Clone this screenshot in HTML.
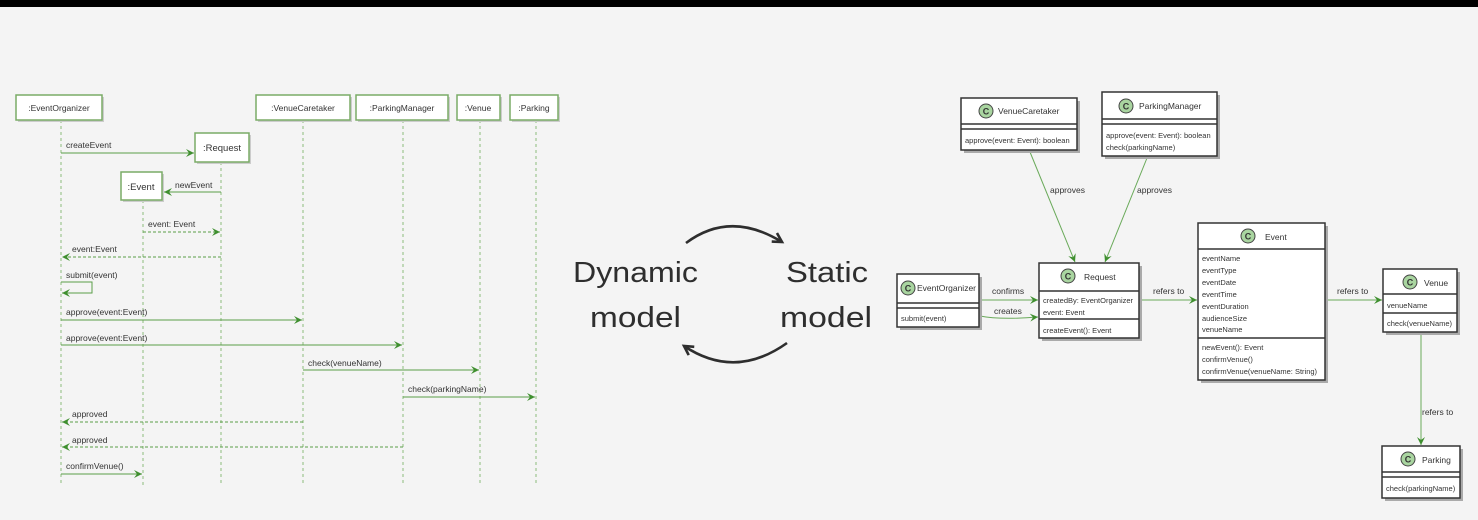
<!DOCTYPE html>
<html><head><meta charset="utf-8"><style>
html,body{margin:0;padding:0;background:#f4f4f4;}
svg{display:block;}
text{font-family:"Liberation Sans",sans-serif;fill:#333;}
.s{font-size:8.5px;}
.big{font-size:29px;fill:#2e2e2e;}
</style></head><body>
<svg width="1478" height="520" viewBox="0 0 1478 520" xmlns="http://www.w3.org/2000/svg">
<defs>
<marker id="ga" markerWidth="10" markerHeight="10" refX="8" refY="4" orient="auto" markerUnits="userSpaceOnUse"><path d="M0,0 L8,4 L0,8 L3,4 Z" fill="#3f8f2f"/></marker>
<marker id="ba" markerWidth="16" markerHeight="16" refX="10" refY="6" orient="auto" markerUnits="userSpaceOnUse"><path d="M1,1 L10,6 L1,11" fill="none" stroke="#2e2e2e" stroke-width="2.6"/></marker>
</defs>
<rect x="0" y="0" width="1478" height="520" fill="#f4f4f4"/>
<rect x="0" y="0" width="1478" height="7" fill="#000"/>

<g stroke="#8dbb7d" stroke-width="1" stroke-dasharray="3,3">
<line x1="61" y1="120" x2="61" y2="485"/>
<line x1="143" y1="200" x2="143" y2="485"/>
<line x1="221" y1="162" x2="221" y2="485"/>
<line x1="303" y1="120" x2="303" y2="485"/>
<line x1="403" y1="120" x2="403" y2="485"/>
<line x1="480" y1="120" x2="480" y2="485"/>
<line x1="536" y1="120" x2="536" y2="485"/>
</g>
<g fill="#fff" stroke="#7aab66" stroke-width="1.5">
<rect x="18" y="97" width="86" height="25" fill="#ccc" stroke="none"/><rect x="16" y="95" width="86" height="25"/>
<rect x="258" y="97" width="94" height="25" fill="#ccc" stroke="none"/><rect x="256" y="95" width="94" height="25"/>
<rect x="358" y="97" width="92" height="25" fill="#ccc" stroke="none"/><rect x="356" y="95" width="92" height="25"/>
<rect x="459" y="97" width="43" height="25" fill="#ccc" stroke="none"/><rect x="457" y="95" width="43" height="25"/>
<rect x="512" y="97" width="48" height="25" fill="#ccc" stroke="none"/><rect x="510" y="95" width="48" height="25"/>
<rect x="197" y="135" width="54" height="29" fill="#ccc" stroke="none"/><rect x="195" y="133" width="54" height="29"/>
<rect x="123" y="174" width="41" height="28" fill="#ccc" stroke="none"/><rect x="121" y="172" width="41" height="28"/>
</g>
<g text-anchor="middle">
<text x="59" y="111" class="s">:EventOrganizer</text>
<text x="303" y="111" class="s">:VenueCaretaker</text>
<text x="402" y="111" class="s">:ParkingManager</text>
<text x="478" y="111" class="s">:Venue</text>
<text x="534" y="111" class="s">:Parking</text>
<text x="222" y="151" class="s" style="font-size:9.5px">:Request</text>
<text x="141" y="190" class="s" style="font-size:9.5px">:Event</text>
</g>
<g stroke="#5a9e48" stroke-width="1" fill="none">
<line x1="61" y1="153" x2="194" y2="153" marker-end="url(#ga)"/>
<line x1="221" y1="192" x2="164" y2="192" marker-end="url(#ga)"/>
<line x1="143" y1="232" x2="220" y2="232" stroke-dasharray="3,2" marker-end="url(#ga)"/>
<line x1="221" y1="257" x2="62" y2="257" stroke-dasharray="3,2" marker-end="url(#ga)"/>
<polyline points="61,282 92,282 92,293 62,293" marker-end="url(#ga)"/>
<line x1="61" y1="320" x2="302" y2="320" marker-end="url(#ga)"/>
<line x1="61" y1="345" x2="402" y2="345" marker-end="url(#ga)"/>
<line x1="303" y1="370" x2="479" y2="370" marker-end="url(#ga)"/>
<line x1="403" y1="397" x2="535" y2="397" marker-end="url(#ga)"/>
<line x1="303" y1="422" x2="62" y2="422" stroke-dasharray="3,2" marker-end="url(#ga)"/>
<line x1="403" y1="447" x2="62" y2="447" stroke-dasharray="3,2" marker-end="url(#ga)"/>
<line x1="61" y1="474" x2="142" y2="474" marker-end="url(#ga)"/>
</g>
<text x="66" y="148" class="s">createEvent</text>
<text x="175" y="188" class="s">newEvent</text>
<text x="148" y="227" class="s">event: Event</text>
<text x="72" y="252" class="s">event:Event</text>
<text x="66" y="278" class="s">submit(event)</text>
<text x="66" y="315" class="s">approve(event:Event)</text>
<text x="66" y="341" class="s">approve(event:Event)</text>
<text x="308" y="366" class="s">check(venueName)</text>
<text x="408" y="392" class="s">check(parkingName)</text>
<text x="72" y="417" class="s">approved</text>
<text x="72" y="443" class="s">approved</text>
<text x="66" y="469" class="s">confirmVenue()</text>

<text x="573" y="282" class="big" textLength="125" lengthAdjust="spacingAndGlyphs">Dynamic</text>
<text x="590" y="327" class="big" textLength="91" lengthAdjust="spacingAndGlyphs">model</text>
<text x="786" y="282" class="big" textLength="82" lengthAdjust="spacingAndGlyphs">Static</text>
<text x="780" y="327" class="big" textLength="92" lengthAdjust="spacingAndGlyphs">model</text>
<path d="M686,243 Q730,210 782,242" fill="none" stroke="#2e2e2e" stroke-width="2.6" marker-end="url(#ba)"/>
<path d="M787,343 Q735,380 684,346" fill="none" stroke="#2e2e2e" stroke-width="2.6" marker-end="url(#ba)"/>

<g stroke="#6aaa5a" stroke-width="1" fill="none">
<line x1="1030" y1="152" x2="1075" y2="262" marker-end="url(#ga)"/>
<line x1="1147" y1="158" x2="1105" y2="262" marker-end="url(#ga)"/>
<line x1="980" y1="300" x2="1038" y2="300" marker-end="url(#ga)"/>
<path d="M980,316 Q1000,320 1038,317" marker-end="url(#ga)"/>
<line x1="1140" y1="300" x2="1197" y2="300" marker-end="url(#ga)"/>
<line x1="1326" y1="300" x2="1382" y2="300" marker-end="url(#ga)"/>
<line x1="1421" y1="333" x2="1421" y2="445" marker-end="url(#ga)"/>
</g>
<text x="1050" y="193" class="s">approves</text>
<text x="1137" y="193" class="s">approves</text>
<text x="992" y="294" class="s">confirms</text>
<text x="994" y="314" class="s">creates</text>
<text x="1153" y="294" class="s">refers to</text>
<text x="1337" y="294" class="s">refers to</text>
<text x="1422" y="415" class="s">refers to</text>

<g fill="#fff" stroke="#333" stroke-width="1.5">
<rect x="964" y="101" width="116" height="52" fill="#aaa" stroke="none"/><rect x="961" y="98" width="116" height="52"/>
<line x1="961" y1="124" x2="1077" y2="124"/><line x1="961" y1="129" x2="1077" y2="129"/>
<rect x="1105" y="95" width="115" height="64" fill="#aaa" stroke="none"/><rect x="1102" y="92" width="115" height="64"/>
<line x1="1102" y1="119" x2="1217" y2="119"/><line x1="1102" y1="124" x2="1217" y2="124"/>
<rect x="900" y="277" width="82" height="53" fill="#aaa" stroke="none"/><rect x="897" y="274" width="82" height="53"/>
<line x1="897" y1="303" x2="979" y2="303"/><line x1="897" y1="308" x2="979" y2="308"/>
<rect x="1042" y="266" width="100" height="75" fill="#aaa" stroke="none"/><rect x="1039" y="263" width="100" height="75"/>
<line x1="1039" y1="291" x2="1139" y2="291"/><line x1="1039" y1="319" x2="1139" y2="319"/>
<rect x="1201" y="226" width="127" height="157" fill="#aaa" stroke="none"/><rect x="1198" y="223" width="127" height="157"/>
<line x1="1198" y1="249" x2="1325" y2="249"/><line x1="1198" y1="338" x2="1325" y2="338"/>
<rect x="1386" y="272" width="74" height="63" fill="#aaa" stroke="none"/><rect x="1383" y="269" width="74" height="63"/>
<line x1="1383" y1="294" x2="1457" y2="294"/><line x1="1383" y1="313" x2="1457" y2="313"/>
<rect x="1385" y="449" width="78" height="52" fill="#aaa" stroke="none"/><rect x="1382" y="446" width="78" height="52"/>
<line x1="1382" y1="472" x2="1460" y2="472"/><line x1="1382" y1="477" x2="1460" y2="477"/>
</g>
<g fill="#a9d5a0" stroke="#444" stroke-width="1">
<circle cx="986" cy="111" r="7"/><circle cx="1126" cy="106" r="7"/>
<circle cx="908" cy="288" r="7"/><circle cx="1068" cy="276" r="7"/>
<circle cx="1248" cy="236" r="7"/><circle cx="1410" cy="282" r="7"/>
<circle cx="1408" cy="459" r="7"/>
</g>
<g text-anchor="middle">
<text x="986" y="114.5" style="font-size:9px;font-weight:bold">C</text>
<text x="1126" y="109.5" style="font-size:9px;font-weight:bold">C</text>
<text x="908" y="291.5" style="font-size:9px;font-weight:bold">C</text>
<text x="1068" y="279.5" style="font-size:9px;font-weight:bold">C</text>
<text x="1248" y="239.5" style="font-size:9px;font-weight:bold">C</text>
<text x="1410" y="285.5" style="font-size:9px;font-weight:bold">C</text>
<text x="1408" y="462.5" style="font-size:9px;font-weight:bold">C</text>
</g>
<text x="998" y="114" class="s">VenueCaretaker</text>
<text x="1139" y="109" class="s">ParkingManager</text>
<text x="917" y="291" class="s" textLength="59" lengthAdjust="spacingAndGlyphs">EventOrganizer</text>
<text x="1084" y="280" class="s">Request</text>
<text x="1265" y="240" class="s">Event</text>
<text x="1424" y="286" class="s">Venue</text>
<text x="1422" y="463" class="s">Parking</text>

<g>
<text x="965" y="143" style="font-size:7.5px">approve(event: Event): boolean</text>
<text x="1106" y="138" style="font-size:7.5px">approve(event: Event): boolean</text>
<text x="1106" y="150" style="font-size:7.5px">check(parkingName)</text>
<text x="901" y="321" style="font-size:7.5px">submit(event)</text>
<text x="1043" y="303" style="font-size:7.5px">createdBy: EventOrganizer</text>
<text x="1043" y="315" style="font-size:7.5px">event: Event</text>
<text x="1043" y="333" style="font-size:7.5px">createEvent(): Event</text>
<text x="1202" y="261" style="font-size:7.5px">eventName</text>
<text x="1202" y="273" style="font-size:7.5px">eventType</text>
<text x="1202" y="285" style="font-size:7.5px">eventDate</text>
<text x="1202" y="297" style="font-size:7.5px">eventTime</text>
<text x="1202" y="309" style="font-size:7.5px">eventDuration</text>
<text x="1202" y="321" style="font-size:7.5px">audienceSize</text>
<text x="1202" y="332" style="font-size:7.5px">venueName</text>
<text x="1202" y="350" style="font-size:7.5px">newEvent(): Event</text>
<text x="1202" y="362" style="font-size:7.5px">confirmVenue()</text>
<text x="1202" y="374" style="font-size:7.5px">confirmVenue(venueName: String)</text>
<text x="1387" y="308" style="font-size:7.5px">venueName</text>
<text x="1387" y="326" style="font-size:7.5px">check(venueName)</text>
<text x="1386" y="491" style="font-size:7.5px">check(parkingName)</text>
</g>
</svg>
</body></html>
